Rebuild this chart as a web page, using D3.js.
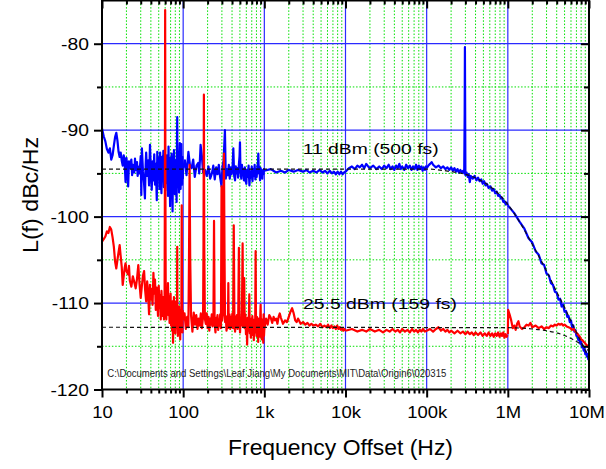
<!DOCTYPE html>
<html>
<head>
<meta charset="utf-8">
<script src="https://cdn.jsdelivr.net/npm/d3@7"></script>
<style>
  html, body { margin: 0; padding: 0; background: #fff; }
  svg { display: block; font-family: Arial, "Liberation Sans", sans-serif; }
</style>
</head>
<body>
<svg id="chart" width="606" height="469"></svg>
<script>
// ---- axis ticks ----
const xTickValues = [10, 100, 1e3, 1e4, 1e5, 1e6, 1e7];
const xTickLabels = ["10", "100", "1k", "10k", "100k", "1M", "10M"];
const yTickValues = [-120, -110, -100, -90, -80];
const yTickLabels = ["-120", "-110", "-100", "-90", "-80"];
const yMinorValues = [-115, -105, -95, -85];

// ---- phase noise, 11 dBm (blue), [offset Hz, dBc/Hz] ----
const blue10to100 = [[10,-89.8],[10.5,-90.7],[11,-91.3],[11.5,-92.2],[12,-92.6],[12.5,-92.1],[13,-93.4],[13.5,-92.9],[14,-91.8],[14.5,-90.8],[15,-90.3],[15.5,-91.2],[16,-92.5],[16.5,-93.1],[17,-92.6],[17.5,-93.5],[18,-94.1],[18.5,-92.9],[19,-93.6],[19.5,-96.0],[20,-93.2],[20.5,-94.3],[21,-96.5],[21.5,-93.6],[22,-94.4],[23,-93.4],[23.5,-95.2],[24,-94.0],[25,-94.9],[25.5,-93.3],[26,-94.6],[27,-93.7],[27.5,-95.3],[28,-94.2],[29,-95.0],[30,-93.0],[30.5,-97.5],[31,-92.1],[32,-94.8],[33,-96.2],[33.8,-97.9],[34.5,-94.0],[35,-92.6],[36,-95.3],[37,-93.5],[38,-96.4],[39,-91.7],[40,-94.7],[41,-96.9],[42,-93.6],[43,-95.8],[44,-92.8],[45,-96.3],[46,-93.9],[47.3,-98.1],[48,-92.5],[49,-95.4],[50,-93.2],[51,-96.8],[52,-92.6],[53,-95.0],[54,-97.3],[55,-93.1],[56,-95.9],[57,-92.4],[58,-96.6],[59,-94.0],[60,-97.0],[61,-93.3],[62,-96.1],[63,-92.9],[64,-95.2],[65,-97.6],[66,-91.9],[67,-95.8],[68,-93.2],[69,-98.8],[70,-94.1],[71,-96.4],[72,-92.7],[73,-95.3],[74,-99.4],[75,-93.8],[76,-96.2],[77,-92.3],[78,-95.5],[79,-97.4],[80,-93.5],[81,-96.0],[82,-94.2],[83,-98.3],[84,-91.2],[84.5,-88.5],[85,-93.7],[86,-96.6],[87,-92.8],[88,-95.1],[89,-97.2],[90,-93.0],[91,-91.5],[92,-95.4],[93,-96.8],[94,-93.6],[95,-91.6],[96,-94.9],[97,-96.3],[98,-93.1],[99,-95.6],[100,-94.4]];
const blue100to1k = [[100,-94.4],[105,-93.5],[110,-95.2],[116,-92.5],[121,-94.0],[127,-94.4],[133,-93.4],[139,-95.4],[146,-94.1],[153,-93.8],[158,-95.0],[164,-91.7],[170,-93.0],[176,-94.9],[186,-94.6],[195,-95.3],[205,-94.2],[215,-95.6],[226,-95.0],[235,-94.1],[245,-95.7],[255,-94.3],[265,-95.1],[275,-94.0],[285,-95.4],[297,-96.5],[305,-94.2],[315,-93.5],[327,-90.0],[335,-95.6],[345,-94.5],[355,-95.2],[365,-94.0],[375,-95.6],[385,-94.3],[395,-95.1],[405,-94.6],[415,-92.1],[425,-95.3],[436,-95.8],[445,-94.2],[455,-95.0],[465,-94.4],[475,-95.5],[485,-94.1],[495,-93.0],[501,-91.4],[508,-94.8],[520,-95.6],[530,-94.0],[540,-95.2],[550,-94.5],[560,-95.8],[575,-94.3],[590,-95.9],[600,-96.2],[610,-94.6],[625,-95.4],[640,-94.1],[655,-96.4],[670,-94.8],[685,-95.5],[700,-94.2],[715,-95.9],[730,-94.5],[745,-95.3],[760,-94.0],[775,-95.7],[790,-94.6],[805,-95.4],[820,-94.3],[835,-93.8],[843,-92.7],[855,-95.0],[870,-94.2],[885,-95.8],[900,-94.4],[915,-95.3],[930,-94.6],[945,-95.6],[960,-94.7],[975,-95.1],[990,-94.5],[1000,-94.7]];
const blue1kto10k = [[1000,-94.7],[1200,-94.5],[1400,-94.9],[1600,-94.7],[1800,-94.9],[2000,-94.6],[2300,-94.8],[2600,-94.6],[3000,-94.8],[3300,-94.6],[3600,-94.9],[4000,-94.7],[4400,-94.9],[4800,-94.6],[5200,-94.9],[5600,-94.7],[6000,-95.0],[6400,-94.7],[6800,-95.0],[7200,-94.8],[7600,-95.1],[8000,-94.8],[8400,-95.1],[8800,-94.8],[9200,-95.1],[9600,-94.9],[10000,-94.8]];
const blue10kto100k = [[10000,-94.8],[11000,-94.4],[12000,-94.2],[13000,-94.5],[14000,-94.1],[15000,-94.3],[16000,-94.0],[17000,-94.4],[18000,-93.9],[19000,-94.2],[20000,-94.4],[22000,-94.1],[24000,-94.5],[26000,-94.2],[28000,-94.5],[30000,-94.1],[32000,-94.4],[34000,-94.0],[36000,-94.5],[38000,-94.2],[40000,-94.6],[42000,-94.1],[44000,-94.4],[46000,-93.9],[48000,-94.5],[50000,-94.2],[53000,-94.6],[56000,-94.0],[59000,-94.4],[62000,-94.1],[65000,-94.6],[68000,-94.2],[71000,-94.5],[74000,-94.0],[77000,-94.6],[80000,-94.1],[83000,-94.5],[86000,-94.2],[89000,-94.7],[92000,-94.3],[95000,-94.6],[98000,-94.2],[100000,-94.4]];
const blue100kto1M = [[100000,-94.4],[105000,-94.1],[110000,-93.9],[115000,-93.7],[120000,-94.0],[130000,-94.3],[140000,-94.1],[150000,-94.4],[160000,-94.2],[170000,-94.5],[180000,-94.3],[190000,-94.6],[200000,-94.3],[210000,-94.7],[220000,-94.4],[230000,-94.8],[240000,-94.5],[250000,-94.9],[260000,-94.6],[270000,-94.9],[280000,-94.7],[290000,-95.0],[294000,-88.0],[296000,-80.4],[298000,-87.5],[300000,-95.2],[310000,-94.9],[320000,-95.4],[330000,-95.1],[340000,-96.0],[350000,-95.3],[370000,-95.6],[390000,-95.3],[410000,-95.8],[430000,-95.5],[450000,-95.9],[470000,-95.7],[490000,-96.2],[510000,-95.9],[530000,-96.4],[550000,-96.2],[580000,-96.7],[610000,-96.5],[640000,-97.0],[670000,-96.8],[700000,-97.3],[730000,-97.1],[760000,-97.6],[790000,-97.5],[820000,-97.9],[850000,-97.8],[880000,-98.3],[910000,-98.2],[940000,-98.6],[970000,-98.4],[1000000,-98.7]];
const blue1Mto10M = [[1000000,-98.7],[1200000,-99.6],[1400000,-100.6],[1600000,-101.4],[1800000,-102.5],[2000000,-103.0],[2200000,-104.0],[2400000,-104.4],[2600000,-105.4],[2800000,-105.6],[3000000,-106.6],[3200000,-106.8],[3400000,-107.7],[3600000,-107.9],[3800000,-108.7],[4000000,-108.8],[4200000,-109.6],[4400000,-109.5],[4600000,-110.4],[4800000,-110.2],[5000000,-111.0],[5200000,-110.9],[5400000,-111.6],[5600000,-111.5],[5800000,-112.2],[6000000,-112.0],[6200000,-112.8],[6400000,-112.6],[6600000,-113.3],[6800000,-113.1],[7000000,-113.8],[7200000,-113.6],[7400000,-114.3],[7600000,-114.0],[7800000,-114.7],[8000000,-114.5],[8200000,-115.1],[8400000,-114.9],[8600000,-115.5],[8800000,-115.2],[9000000,-115.9],[9200000,-115.6],[9400000,-116.2],[9600000,-115.9],[9800000,-116.5],[10000000,-116.3]];

// ---- phase noise, 25.5 dBm (red), [offset Hz, dBc/Hz] ----
const red10to100 = [[10,-102.9],[10.5,-102.6],[11,-102.3],[11.5,-101.7],[12,-101.9],[12.5,-101.2],[13,-101.5],[13.5,-102.4],[14,-103.5],[14.5,-105.2],[15,-106.0],[15.5,-105.0],[16,-104.1],[16.5,-103.3],[17,-104.6],[17.5,-105.8],[18,-107.9],[18.5,-106.9],[19,-106.0],[19.5,-105.4],[20,-106.3],[21,-106.7],[21.5,-105.7],[22,-107.4],[23,-108.1],[24,-106.9],[25,-107.6],[26,-108.3],[27,-107.2],[28,-105.6],[29,-107.8],[30,-109.4],[31,-108.0],[32,-106.8],[33,-106.3],[34,-108.5],[35,-109.8],[36,-107.5],[37,-108.9],[38,-111.3],[39,-107.9],[40,-109.6],[41,-108.4],[42,-110.2],[43,-106.5],[44,-108.9],[45,-107.3],[46,-110.8],[47,-108.2],[48,-109.7],[49,-111.5],[50,-108.0],[51,-110.6],[52,-109.1],[53,-111.9],[54,-108.6],[55,-110.4],[56,-111.5],[57,-109.3],[58,-111.9],[59,-110.2],[59.6,-95.0],[60,-76.1],[60.4,-95.0],[61,-110.6],[62,-111.9],[63,-108.7],[64,-110.8],[65,-107.7],[66,-111.4],[67,-109.2],[68,-112.3],[69,-110.1],[70,-108.9],[71,-112.6],[72,-110.4],[73,-113.2],[74,-109.8],[75,-114.6],[76,-111.0],[77,-109.3],[78,-112.4],[79,-110.7],[80,-113.5],[81,-111.2],[82,-109.8],[83,-112.9],[84,-110.5],[84.5,-103.5],[85,-111.6],[86,-113.8],[87,-110.9],[88,-112.6],[89,-110.4],[90,-113.1],[91,-111.5],[92,-114.2],[93,-110.8],[94,-112.7],[95,-111.4],[96,-98.7],[97,-111.9],[98,-113.4],[99,-110.9],[100,-112.0]];
const red100to1k = [[100,-112.0],[104,-111.2],[108,-113.0],[112,-111.6],[116,-112.8],[118,-105.0],[120,-94.0],[122,-104.5],[125,-111.4],[130,-113.3],[135,-111.1],[140,-112.5],[145,-111.4],[150,-113.0],[155,-111.8],[160,-112.6],[165,-111.2],[170,-112.9],[176,-111.5],[178,-103.0],[180,-85.9],[182,-103.5],[185,-111.8],[190,-112.4],[195,-111.2],[200,-112.9],[205,-111.6],[210,-113.2],[215,-111.8],[220,-112.5],[225,-111.3],[230,-112.7],[236,-111.9],[240,-100.5],[244,-112.3],[250,-113.4],[255,-111.7],[260,-112.8],[265,-111.4],[270,-113.1],[275,-111.9],[280,-112.6],[286,-111.3],[292,-112.9],[297,-96.5],[302,-112.0],[308,-111.4],[313,-101.0],[318,-92.7],[323,-104.0],[328,-112.2],[335,-111.5],[342,-113.2],[350,-111.8],[356,-112.9],[360,-107.7],[364,-112.4],[372,-111.3],[380,-113.0],[388,-111.6],[396,-112.7],[404,-111.2],[412,-112.9],[420,-101.0],[428,-111.9],[436,-113.3],[444,-111.6],[452,-112.8],[460,-111.4],[468,-113.0],[476,-112.1],[486,-103.6],[494,-111.7],[502,-113.4],[510,-111.9],[520,-112.6],[530,-110.9],[540,-103.1],[548,-112.8],[556,-111.4],[565,-107.1],[574,-112.9],[584,-111.3],[594,-113.6],[604,-112.0],[614,-114.8],[624,-111.7],[634,-113.2],[644,-112.1],[653,-109.0],[662,-113.5],[672,-111.8],[682,-114.0],[692,-112.3],[702,-113.7],[712,-111.5],[722,-113.0],[732,-112.2],[742,-114.3],[752,-111.9],[762,-113.4],[772,-112.0],[781,-104.0],[790,-112.6],[800,-113.8],[810,-111.6],[820,-113.1],[830,-112.4],[840,-114.5],[850,-111.8],[860,-113.3],[870,-112.0],[880,-113.9],[890,-111.7],[900,-110.2],[910,-113.2],[920,-112.3],[930,-114.2],[940,-111.9],[950,-113.5],[960,-112.6],[970,-114.6],[980,-111.3],[990,-113.8],[1000,-113.0]];
const red1kto10k = [[1000,-113.0],[1050,-111.8],[1100,-112.5],[1150,-111.4],[1200,-111.7],[1250,-112.3],[1300,-111.6],[1350,-112.0],[1400,-111.8],[1450,-112.4],[1500,-111.6],[1550,-111.2],[1600,-111.7],[1700,-112.4],[1800,-112.0],[1900,-112.2],[2000,-111.6],[2100,-111.0],[2200,-110.6],[2300,-111.2],[2400,-112.0],[2500,-112.2],[2600,-111.8],[2800,-112.4],[3000,-112.2],[3200,-112.5],[3400,-112.3],[3600,-112.6],[3800,-112.4],[4000,-112.6],[4300,-112.5],[4600,-112.7],[4900,-112.4],[5200,-112.8],[5500,-112.6],[5800,-112.8],[6100,-112.5],[6400,-112.9],[6700,-112.6],[7000,-112.9],[7300,-112.7],[7600,-113.0],[7900,-112.6],[8200,-113.0],[8500,-112.8],[8800,-113.1],[9100,-112.9],[9400,-113.2],[9700,-113.0],[10000,-113.2]];
const red10kto100k = [[10000,-113.2],[12000,-113.0],[14000,-113.3],[16000,-113.1],[18000,-113.3],[20000,-113.0],[23000,-113.3],[26000,-113.1],[29000,-113.4],[32000,-113.1],[35000,-113.3],[38000,-113.0],[41000,-113.3],[44000,-113.1],[47000,-113.4],[50000,-113.0],[54000,-113.3],[58000,-113.1],[62000,-113.4],[66000,-113.0],[70000,-113.3],[74000,-113.1],[78000,-113.4],[82000,-113.1],[86000,-113.3],[90000,-113.0],[95000,-113.3],[100000,-113.2]];
const red100kto1M = [[100000,-113.2],[110000,-113.0],[120000,-113.3],[130000,-113.0],[140000,-112.8],[150000,-113.2],[160000,-113.0],[170000,-113.3],[180000,-113.1],[190000,-113.4],[200000,-113.2],[220000,-113.5],[240000,-113.2],[260000,-113.5],[280000,-113.3],[300000,-113.6],[320000,-113.3],[340000,-113.6],[360000,-113.4],[380000,-113.7],[400000,-113.4],[430000,-113.7],[460000,-113.4],[490000,-113.8],[520000,-113.5],[550000,-113.8],[580000,-113.4],[610000,-113.8],[640000,-113.5],[670000,-113.9],[700000,-113.5],[730000,-113.8],[760000,-113.4],[790000,-113.9],[820000,-113.5],[850000,-113.8],[880000,-113.4],[910000,-114.0],[940000,-113.6],[970000,-113.9],[990000,-113.7]];
const red1Mto10M = [[1000000,-113.6],[1010000,-110.8],[1050000,-111.3],[1100000,-112.0],[1150000,-112.9],[1200000,-112.6],[1250000,-113.1],[1300000,-112.4],[1350000,-112.1],[1400000,-112.7],[1500000,-113.0],[1600000,-112.8],[1700000,-112.5],[1800000,-112.6],[1900000,-112.3],[2000000,-112.8],[2200000,-112.6],[2400000,-112.9],[2600000,-112.7],[2800000,-113.0],[3000000,-112.8],[3200000,-112.9],[3400000,-112.6],[3600000,-112.7],[3800000,-112.5],[4000000,-112.6],[4200000,-112.4],[4400000,-112.5],[4600000,-112.4],[4800000,-112.6],[5000000,-112.5],[5300000,-112.7],[5600000,-112.8],[5900000,-112.9],[6200000,-113.1],[6500000,-113.0],[6800000,-113.3],[7100000,-113.5],[7400000,-113.7],[7700000,-113.9],[8000000,-114.2],[8300000,-114.3],[8600000,-114.5],[8900000,-114.6],[9200000,-114.8],[9500000,-114.9],[9800000,-115.1],[10000000,-115.0]];

// ---- fitted noise models (dashed) ----
const blueFit = [[10,-94.5],[1e5,-94.5],[2e5,-94.8],[3e5,-95.1],[5e5,-96.0],[7e5,-97.0],[1e6,-98.6],[1.5e6,-101.1],[2e6,-103.2],[3e6,-106.3],[4e6,-108.7],[5e6,-110.5],[6e6,-112.1],[7e6,-113.4],[8e6,-114.5],[9e6,-115.5],[1e7,-116.4]];
const redFit = [[10,-112.8],[1e6,-112.85],[2e6,-113.0],[3e6,-113.2],[4e6,-113.45],[5e6,-113.75],[6e6,-114.1],[7e6,-114.45],[8e6,-114.8],[9e6,-115.2],[1e7,-115.55]];

const blueSeries = [blue10to100, blue100to1k, blue1kto10k, blue10kto100k, blue100kto1M, blue1Mto10M];
const redSeries = [red10to100, red100to1k, red1kto10k, red10kto100k, red100kto1M, red1Mto10M];

// ---- layout ----
const plot = { left: 102, right: 589, top: 0.5, bottom: 389.5 };
const FONT = "Arial, 'Liberation Sans', sans-serif";

const svg = d3.select("#chart");
const x = d3.scaleLog().domain([10, 1e7]).range([plot.left, plot.right]);
const y = d3.scaleLinear().domain([-120, -75]).range([plot.bottom, plot.top]);

const xMinor = [];
for (let d = 10; d < 1e7; d *= 10) for (let k = 2; k <= 9; k++) xMinor.push(d * k);

svg.append("defs").append("clipPath").attr("id", "plotClip")
  .append("rect").attr("x", plot.left).attr("y", plot.top)
  .attr("width", plot.right - plot.left).attr("height", plot.bottom - plot.top);

// minor grid: green dotted
const grid = svg.append("g");
grid.selectAll(".gxm").data(xMinor).join("line")
  .attr("x1", d => x(d)).attr("x2", d => x(d))
  .attr("y1", plot.top).attr("y2", plot.bottom)
  .attr("stroke", "#00e000").attr("stroke-width", 1).attr("stroke-dasharray", "1.5,1.8");
grid.selectAll(".gym").data(yMinorValues).join("line")
  .attr("x1", plot.left).attr("x2", plot.right)
  .attr("y1", d => y(d)).attr("y2", d => y(d))
  .attr("stroke", "#00e000").attr("stroke-width", 1).attr("stroke-dasharray", "1.5,1.8");
// major grid: blue solid
grid.selectAll(".gxM").data(xTickValues.slice(1, -1)).join("line")
  .attr("x1", d => x(d)).attr("x2", d => x(d))
  .attr("y1", plot.top).attr("y2", plot.bottom)
  .attr("stroke", "#2a2aff").attr("stroke-width", 1.2);
grid.selectAll(".gyM").data(yTickValues.slice(1)).join("line")
  .attr("x1", plot.left).attr("x2", plot.right)
  .attr("y1", d => y(d)).attr("y2", d => y(d))
  .attr("stroke", "#2a2aff").attr("stroke-width", 1.2);

// data traces
const line = d3.line().x(d => x(d[0])).y(d => y(d[1]));
const traces = svg.append("g").attr("clip-path", "url(#plotClip)");
traces.selectAll(".blue").data(blueSeries).join("path")
  .attr("d", line).attr("fill", "none").attr("stroke", "#0000ff")
  .attr("stroke-width", 2.2).attr("stroke-linejoin", "round");
traces.selectAll(".red").data(redSeries).join("path")
  .attr("d", line).attr("fill", "none").attr("stroke", "#ff0000")
  .attr("stroke-width", 2.2).attr("stroke-linejoin", "round");

// fitted models
const fitLine = d3.line().x(d => x(d[0])).y(d => y(d[1])).curve(d3.curveMonotoneX);
traces.selectAll(".fit").data([blueFit, redFit]).join("path")
  .attr("d", fitLine).attr("fill", "none").attr("stroke", "#111")
  .attr("stroke-width", 1.2).attr("stroke-dasharray", "4,3");

// axes
const tickStyle = g => {
  g.select(".domain").remove();
  g.selectAll(".tick line").attr("stroke", "#000").attr("stroke-width", 2);
};
const fmtX = d => xTickLabels[xTickValues.indexOf(d)];
const fmtY = d => yTickLabels[yTickValues.indexOf(d)];

const xAxis = svg.append("g").attr("transform", `translate(0,${plot.bottom})`)
  .call(d3.axisBottom(x).tickValues(xTickValues).tickFormat(fmtX).tickSize(8).tickSizeOuter(0))
  .call(tickStyle);
xAxis.selectAll(".tick text")
  .attr("y", 0).attr("dy", "0.71em")
  .attr("transform", (d, i) => `translate(${i === xTickValues.length - 1 ? -2.5 : 0},17) scale(1.12,1)`)
  .attr("font-size", 16.5).attr("fill", "#000").attr("font-family", FONT);
svg.append("g").attr("transform", `translate(0,${plot.bottom})`)
  .call(d3.axisBottom(x).tickValues(xMinor).tickFormat("").tickSize(4).tickSizeOuter(0))
  .call(tickStyle);

// top (inward ticks, no labels)
svg.append("g").attr("transform", `translate(0,${plot.top})`)
  .call(d3.axisBottom(x).tickValues(xTickValues).tickFormat("").tickSize(8).tickSizeOuter(0))
  .call(tickStyle);
svg.append("g").attr("transform", `translate(0,${plot.top})`)
  .call(d3.axisBottom(x).tickValues(xMinor).tickFormat("").tickSize(4).tickSizeOuter(0))
  .call(tickStyle);

const yAxis = svg.append("g").attr("transform", `translate(${plot.left},0)`)
  .call(d3.axisLeft(y).tickValues(yTickValues).tickFormat(fmtY).tickSize(8).tickSizeOuter(0))
  .call(tickStyle);
yAxis.selectAll(".tick text")
  .attr("x", 0).attr("dy", "0.35em")
  .attr("transform", "translate(-13,0) scale(1.17,1)")
  .attr("font-size", 16.5).attr("fill", "#000").attr("font-family", FONT);
svg.append("g").attr("transform", `translate(${plot.left},0)`)
  .call(d3.axisLeft(y).tickValues(yMinorValues).tickFormat("").tickSize(5).tickSizeOuter(0))
  .call(tickStyle);

// right (inward ticks, no labels)
svg.append("g").attr("transform", `translate(${plot.right},0)`)
  .call(d3.axisLeft(y).tickValues(yTickValues).tickFormat("").tickSize(8).tickSizeOuter(0))
  .call(tickStyle);
svg.append("g").attr("transform", `translate(${plot.right},0)`)
  .call(d3.axisLeft(y).tickValues(yMinorValues).tickFormat("").tickSize(5).tickSizeOuter(0))
  .call(tickStyle);

// frame
svg.append("rect")
  .attr("x", plot.left).attr("y", plot.top)
  .attr("width", plot.right - plot.left).attr("height", plot.bottom - plot.top)
  .attr("fill", "none").attr("stroke", "#000").attr("stroke-width", 2);

// annotations
svg.append("text").attr("x", 302.7).attr("y", 153.5)
  .attr("font-size", 15.5).attr("textLength", 136).attr("lengthAdjust", "spacingAndGlyphs")
  .text("11 dBm (500 fs)");
svg.append("text").attr("x", 303).attr("y", 309)
  .attr("font-size", 15.5).attr("textLength", 154).attr("lengthAdjust", "spacingAndGlyphs")
  .text("25.5 dBm (159 fs)");
svg.append("text").attr("x", 107.3).attr("y", 377)
  .attr("font-size", 10).attr("fill", "#222").attr("textLength", 339).attr("lengthAdjust", "spacingAndGlyphs")
  .text("C:\\Documents and Settings\\Leaf Jiang\\My Documents\\MIT\\Data\\Origin6\\020315");

// axis titles
svg.append("text").attr("x", 340.5).attr("y", 455)
  .attr("text-anchor", "middle").attr("font-size", 21.5)
  .attr("textLength", 225).attr("lengthAdjust", "spacingAndGlyphs")
  .text("Frequency Offset (Hz)");
svg.append("text")
  .attr("transform", "translate(38,195) rotate(-90)")
  .attr("text-anchor", "middle").attr("font-size", 21.5)
  .attr("textLength", 116).attr("lengthAdjust", "spacingAndGlyphs")
  .text("L(f) dBc/Hz");
</script>
</body>
</html>
